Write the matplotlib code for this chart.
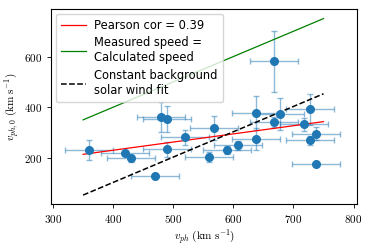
import numpy as np
import matplotlib
matplotlib.use("Agg")
import matplotlib.pyplot as plt
from matplotlib.ticker import FuncFormatter

plt.rcParams['mathtext.fontset'] = 'cm'
plt.rcParams['font.family'] = 'DejaVu Sans'

# measured points
v_ph = [360, 419, 429, 470, 479, 489, 489, 519, 559, 568, 589, 608,
        638, 638, 668, 668, 678, 718, 728, 728, 738, 738]
v_ph0 = [231, 218, 199, 129, 362, 353, 234, 281, 204, 319, 231, 250,
         378, 275, 582, 343, 373, 332, 391, 269, 296, 175]
xerr = [40] * len(v_ph)
yerr = [40, 10, 14, 5, 60, 50, 30, 29, 20, 47, 16, 18,
        68, 43, 120, 20, 64, 25, 62, 18, 24, 5]

# lines
line_x = [350, 750]
fit_y = [214, 343]
equal_y = [350, 750]
const_bg_y = [53, 453]

fig = plt.figure(figsize=(3.74, 2.49), dpi=100)
ax = fig.add_axes([0.137, 0.181, 0.818, 0.783])

ax.errorbar(v_ph, v_ph0, xerr=xerr, yerr=yerr, fmt='none', ecolor='C0',
            alpha=0.5, capsize=2, elinewidth=1)
ax.plot(v_ph, v_ph0, 'o', color='C0', markersize=5.5, zorder=3)

ax.plot(line_x, fit_y, 'r-', lw=0.9, label='Pearson cor = 0.39')
ax.plot(line_x, equal_y, 'g-', lw=0.9, label='Measured speed =\nCalculated speed')
ax.plot(line_x, const_bg_y, 'k--', lw=1.1, label='Constant background\nsolar wind fit')

ax.set_xlim(297, 806)
ax.set_ylim(18, 788)
ax.set_xticks([300, 400, 500, 600, 700, 800])
ax.set_yticks([200, 400, 600])
fmt = FuncFormatter(lambda v, p: r'$%d$' % v)
ax.xaxis.set_major_formatter(fmt)
ax.yaxis.set_major_formatter(fmt)
ax.tick_params(labelsize=8, length=3, width=0.6)
for s in ax.spines.values():
    s.set_linewidth(0.8)

ax.set_xlabel(r'$v_{ph}\ (\mathrm{km\ s^{-1}})$', fontsize=8, labelpad=2)
ax.set_ylabel(r'$v_{ph,0}\ (\mathrm{km\ s^{-1}})$', fontsize=8, labelpad=2)

ax.legend(loc='upper left', fontsize=8.3, handlelength=2.2, borderpad=0.45,
          labelspacing=0.4, handletextpad=0.7, borderaxespad=0.4)

fig.savefig('out.png', dpi=100)
